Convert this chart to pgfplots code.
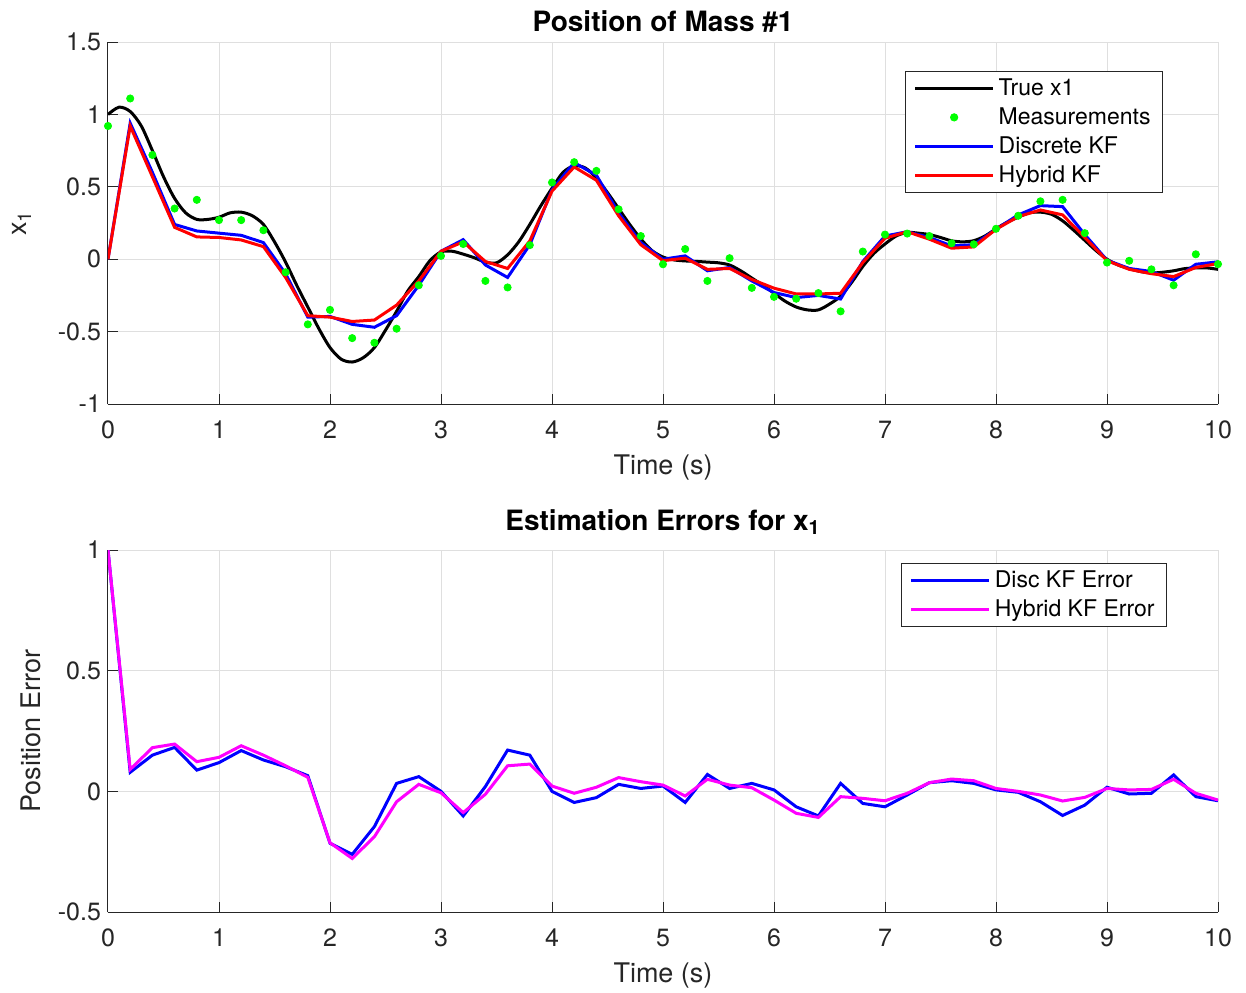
\documentclass[border=0pt]{standalone}
\usepackage{fontspec}
\setmainfont{TeX Gyre Heros}
\usepackage{pgfplots}
\pgfplotsset{compat=1.18}
\usepackage{pgfplotstable}
\definecolor{axgray}{HTML}{262626}
\definecolor{gridc}{HTML}{DFDFDF}
\definecolor{mgreen}{HTML}{00FF00}
\definecolor{mblue}{HTML}{0000FF}
\definecolor{mred}{HTML}{FF0000}
\definecolor{mmag}{HTML}{FF00FF}

% sampled every 0.2 s: measurements, estimates, errors (true - estimate)
\pgfplotstableread{
t    meas    disc    hyb     edisc   ehyb
0.0  0.92    0       0       1.0     1.0
0.2  1.11    0.94    0.92    0.079   0.091
0.4  0.72    0.60    0.57    0.15    0.181
0.6  0.35    0.24    0.22    0.182   0.196
0.8  0.41    0.195   0.154   0.088   0.123
1.0  0.27    0.18    0.15    0.119   0.141
1.2  0.27    0.165   0.133   0.169   0.189
1.4  0.20    0.115   0.087   0.13    0.15
1.6  -0.09   -0.10   -0.126  0.102   0.106
1.8  -0.45   -0.40   -0.39   0.065   0.058
2.0  -0.35   -0.395  -0.40   -0.215  -0.213
2.2  -0.545  -0.45   -0.43   -0.261  -0.278
2.4  -0.577  -0.47   -0.42   -0.146  -0.188
2.6  -0.48   -0.39   -0.317  0.033   -0.043
2.8  -0.18   -0.18   -0.15   0.061   0.029
3.0  0.023   0.055   0.055   0.0     -0.006
3.2  0.105   0.135   0.12    -0.102  -0.088
3.4  -0.15   -0.04   -0.016  0.02    -0.012
3.6  -0.195  -0.126  -0.064  0.171   0.106
3.8  0.097   0.10    0.126   0.15    0.113
4.0  0.53    0.48    0.47    0.0     0.022
4.2  0.67    0.667   0.637   -0.046  -0.008
4.4  0.61    0.58    0.545   -0.026  0.017
4.6  0.345   0.32    0.30    0.029   0.057
4.8  0.16    0.115   0.10    0.012   0.04
5.0  -0.035  0.0     -0.01   0.022   0.026
5.2  0.07    0.023   0.007   -0.046  -0.019
5.4  -0.15   -0.08   -0.07   0.07    0.05
5.6  0.007   -0.057  -0.064  0.012   0.026
5.8  -0.198  -0.15   -0.14   0.033   0.015
6.0  -0.26   -0.23   -0.20   0.006   -0.036
6.2  -0.273  -0.265  -0.24   -0.064  -0.091
6.4  -0.234  -0.25   -0.24   -0.102  -0.108
6.6  -0.36   -0.275  -0.235  0.033   -0.022
6.8  0.053   -0.016  -0.023  -0.05   -0.029
7.0  0.17    0.16    0.145   -0.064  -0.039
7.2  0.177   0.19    0.19    -0.015  -0.008
7.4  0.16    0.15    0.138   0.036   0.036
7.6  0.11    0.092   0.076   0.044   0.051
7.8  0.103   0.10    0.085   0.033   0.044
8.0  0.21    0.207   0.207   0.006   0.012
8.2  0.30    0.306   0.294   -0.004  0.0
8.4  0.40    0.37    0.34    -0.043  -0.015
8.6  0.41    0.363   0.306   -0.1    -0.04
8.8  0.18    0.17    0.15    -0.057  -0.025
9.0  -0.023  -0.007  -0.01   0.017   0.012
9.2  -0.011  -0.064  -0.07   -0.011  0.006
9.4  -0.07   -0.085  -0.10   -0.008  0.008
9.6  -0.18   -0.145  -0.12   0.068   0.05
9.8  0.034   -0.035  -0.057  -0.022  -0.008
10.0 -0.034  -0.018  -0.03   -0.039  -0.036
}\kf

% true position, every 0.1 s
\pgfplotstableread{
t    x
0.0  1.0
0.1  1.05
0.2  1.02
0.3  0.92
0.4  0.75
0.5  0.57
0.6  0.42
0.7  0.32
0.8  0.275
0.9  0.275
1.0  0.29
1.1  0.32
1.2  0.325
1.3  0.30
1.4  0.24
1.5  0.12
1.6  -0.02
1.7  -0.18
1.8  -0.33
1.9  -0.48
2.0  -0.61
2.1  -0.69
2.2  -0.71
2.3  -0.68
2.4  -0.61
2.5  -0.49
2.6  -0.36
2.7  -0.22
2.8  -0.12
2.9  -0.01
3.0  0.05
3.1  0.055
3.2  0.035
3.3  0.01
3.4  -0.02
3.5  -0.025
3.6  0.03
3.7  0.12
3.8  0.24
3.9  0.37
4.0  0.49
4.1  0.60
4.2  0.645
4.3  0.63
4.4  0.56
4.5  0.46
4.6  0.35
4.7  0.24
4.8  0.14
4.9  0.06
5.0  0.015
5.1  -0.005
5.2  -0.012
5.3  -0.015
5.4  -0.02
5.5  -0.025
5.6  -0.04
5.7  -0.08
5.8  -0.13
5.9  -0.18
6.0  -0.235
6.1  -0.29
6.2  -0.33
6.3  -0.35
6.4  -0.35
6.5  -0.31
6.6  -0.255
6.7  -0.16
6.8  -0.05
6.9  0.04
7.0  0.105
7.1  0.16
7.2  0.185
7.3  0.18
7.4  0.17
7.5  0.15
7.6  0.127
7.7  0.12
7.8  0.128
7.9  0.16
8.0  0.21
8.1  0.255
8.2  0.29
8.3  0.32
8.4  0.325
8.5  0.31
8.6  0.265
8.7  0.2
8.8  0.13
8.9  0.06
9.0  0.0
9.1  -0.04
9.2  -0.065
9.3  -0.085
9.4  -0.095
9.5  -0.09
9.6  -0.08
9.7  -0.065
9.8  -0.06
9.9  -0.06
10.0 -0.07
}\truex

\pgfplotsset{
  mlab/.style={
    scale only axis, width=555pt, height=181pt,
    xmin=0, xmax=10, xtick={0,...,10},
    axis x line*=bottom, axis y line*=left,
    axis line style={axgray, line width=0.5pt},
    grid=major, major grid style={gridc, line width=0.5pt},
    tick align=inside, major tick length=5pt,
    tick style={axgray, line width=0.5pt},
    ticklabel style={font=\fontsize{12.5}{15}\selectfont, text=axgray},
    xticklabel style={yshift=-5pt},
    label style={font=\fontsize{13.5}{16}\selectfont, text=axgray},
    xlabel style={yshift=-1pt},
    title style={font=\fontsize{14}{17}\selectfont\bfseries},
    xlabel={Time (s)},
    legend cell align=left,
    legend style={draw=axgray, line width=0.5pt, font=\fontsize{11.5}{14}\selectfont,
      row sep=0.6pt, inner xsep=4pt, inner ysep=1.5pt},
    legend image code/.code={\draw[##1] (0pt,0pt) -- (39pt,0pt);},
  },
  dotleg/.style={legend image code/.code={\draw[##1] plot coordinates {(19.5pt,0pt)};}},
}

\begin{document}
\begin{tikzpicture}
\begin{axis}[mlab, at={(0,0)}, anchor=north west,
  ymin=-1, ymax=1.5, ytick={-1,-0.5,0,0.5,1,1.5},
  yticklabels={-1,-0.5,0,0.5,1,1.5},
  xticklabels={0,1,2,3,4,5,6,7,8,9,10},
  title={Position of Mass \#1},
  title style={yshift=-4.5pt},
  ylabel={x\textsubscript{1}},
  ylabel style={yshift=6.5pt},
  legend style={at={(1,1)}, anchor=north east, xshift=-27.5pt, yshift=-14.5pt}]
\addplot[black, line width=1.5pt, smooth] table[x=t, y=x] {\truex};
\addlegendentry{True x1}
\addplot[only marks, mark=*, mark size=1.8pt, mgreen, dotleg]
  table[x=t, y=meas] {\kf};
\addlegendentry{Measurements}
\addplot[mblue, line width=1.5pt] table[x=t, y=disc] {\kf};
\addlegendentry{Discrete KF}
\addplot[mred, line width=1.5pt] table[x=t, y=hyb] {\kf};
\addlegendentry{Hybrid KF}
\end{axis}

\begin{axis}[mlab, at={(0,-254pt)}, anchor=north west,
  ymin=-0.5, ymax=1, ytick={-0.5,0,0.5,1},
  yticklabels={-0.5,0,0.5,1},
  xticklabels={0,1,2,3,4,5,6,7,8,9,10},
  title={Estimation Errors for x\textsubscript{1}},
  title style={yshift=-2pt},
  ylabel={Position Error},
  ylabel style={yshift=1.5pt},
  legend style={at={(1,1)}, anchor=north east, xshift=-25.5pt, yshift=-6.5pt}]
\addplot[mblue, line width=1.5pt] table[x=t, y=edisc] {\kf};
\addlegendentry{Disc KF Error}
\addplot[mmag, line width=1.5pt] table[x=t, y=ehyb] {\kf};
\addlegendentry{Hybrid KF Error}
\end{axis}
\pgfresetboundingbox
\path (-54pt,21pt) rectangle (569pt,-475pt);
\end{tikzpicture}
\end{document}
